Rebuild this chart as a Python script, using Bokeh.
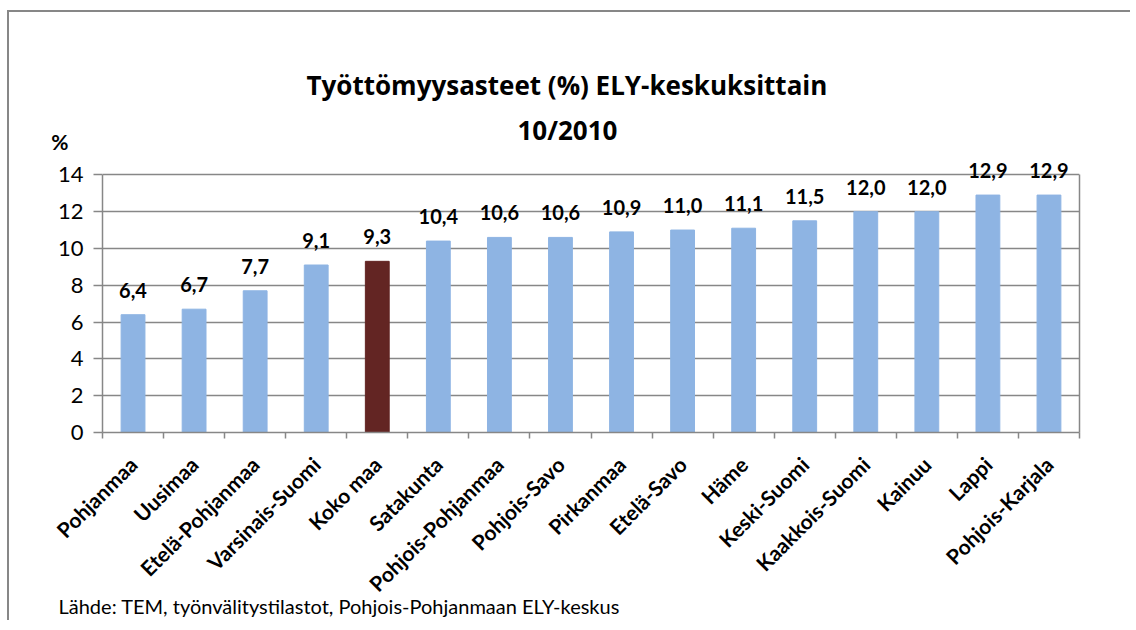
from bokeh.plotting import figure
from bokeh.models import (ColumnDataSource, LabelSet, Range1d, FixedTicker, LinearAxis, Title)
from bokeh.core.properties import value
from bokeh.embed import file_html
from bokeh.resources import INLINE

categories = ["Pohjanmaa", "Uusimaa", "Etelä-Pohjanmaa", "Varsinais-Suomi", "Koko maa",
              "Satakunta", "Pohjois-Pohjanmaa", "Pohjois-Savo", "Pirkanmaa", "Etelä-Savo",
              "Häme", "Keski-Suomi", "Kaakkois-Suomi", "Kainuu", "Lappi", "Pohjois-Karjala"]
values = [6.4, 6.7, 7.7, 9.1, 9.3, 10.4, 10.6, 10.6, 10.9, 11.0, 11.1, 11.5, 12.0, 12.0, 12.9, 12.9]
y_ticks = [0, 2, 4, 6, 8, 10, 12, 14]
highlight = "Koko maa"
title_1 = "Työttömyysasteet (%) ELY-keskuksittain"
title_2 = "10/2010"
unit_label = "%"
source_text = "Lähde:  TEM, työnvälitystilastot, Pohjois-Pohjanmaan ELY-keskus"

FONT = "Lato"
TFONT = "Open Sans"
GRAY = "#878787"
Y_MAX = 14
Y_TOP = 16.3      # extra room above the 14 line for titles / labels
UNIT_Y = 15.82    # vertical place of the "%" unit text

xs = [i + 1 for i in range(len(categories))]
colors = ["#632523" if c == highlight else "#8EB4E3" for c in categories]
texts = [f"{v:.1f}".replace(".", ",") for v in values]
src = ColumnDataSource(dict(x=xs, top=values, color=colors, text=texts, cat=categories))

p = figure(width=1130, height=620, output_backend="svg", toolbar_location=None,
           x_range=Range1d(0.5, len(categories) + 0.5), y_range=Range1d(0, Y_TOP),
           min_border_left=102, min_border_right=51, min_border_top=132, min_border_bottom=188)
p.background_fill_color = "white"
p.border_fill_color = None
p.outline_line_color = None
p.styles = {
    "vertical-align": "top",
    "background-color": "white",
    "background-image": "linear-gradient(#878787,#878787), linear-gradient(#878787,#878787)",
    "background-size": "2px 2000px, 2000px 2px",
    "background-position": "7px 10px, 7px 10px",
    "background-repeat": "no-repeat",
}

p.vbar(x="x", top="top", width=0.39, fill_color="color", line_color="color", source=src)

labels = LabelSet(x="x", y="top", text="text", source=src, text_align="center",
                  text_baseline="alphabetic", y_offset=17, text_font=value(FONT),
                  text_font_style="bold", text_font_size="20px", text_color="black")
p.add_layout(labels)

# y axis
p.yaxis.ticker = FixedTicker(ticks=y_ticks)
p.yaxis.bounds = (0, Y_MAX)
p.yaxis.minor_tick_line_color = None
p.yaxis.major_tick_out = 9
p.yaxis.major_tick_in = 0
p.yaxis.major_tick_line_color = GRAY
p.yaxis.major_tick_line_width = 1.5
p.yaxis.axis_line_color = GRAY
p.yaxis.axis_line_width = 1.5
p.yaxis.major_label_text_font = FONT
p.yaxis.major_label_text_font_size = "22px"
p.yaxis.major_label_text_color = "black"
p.yaxis.major_label_standoff = 10

# unit text "%" above the value axis
ua = LinearAxis(ticker=FixedTicker(ticks=[UNIT_Y]), major_label_overrides={UNIT_Y: unit_label},
                major_tick_line_color=None, minor_tick_line_color=None, axis_line_color=None,
                major_tick_out=0, major_tick_in=0, major_label_standoff=-14,
                major_label_text_font=FONT, major_label_text_font_style="bold",
                major_label_text_font_size="21px", major_label_text_color="black")
p.add_layout(ua, "left")

# right border line of the plot area
ra = LinearAxis(bounds=(0, Y_MAX), ticker=FixedTicker(ticks=[]), major_tick_line_color=None,
                minor_tick_line_color=None, major_label_text_font_size="0px",
                axis_line_color=GRAY, axis_line_width=1.5)
p.add_layout(ra, "right")

# x axis
p.xaxis.ticker = FixedTicker(ticks=xs, minor_ticks=[x - 0.5 for x in xs] + [xs[-1] + 0.5])
p.xaxis.major_label_overrides = {x: c for x, c in zip(xs, categories)}
p.xaxis.major_tick_line_color = None
p.xaxis.minor_tick_line_color = GRAY
p.xaxis.minor_tick_line_width = 1.5
p.xaxis.minor_tick_out = 6
p.xaxis.minor_tick_in = 0
p.xaxis.axis_line_color = GRAY
p.xaxis.axis_line_width = 1.5
p.xaxis.major_label_orientation = 0.785398
p.xaxis.major_label_text_font = FONT
p.xaxis.major_label_text_font_style = "bold"
p.xaxis.major_label_text_font_size = "21px"
p.xaxis.major_label_text_color = "black"
p.xaxis.major_label_standoff = 22

p.xgrid.grid_line_color = None
p.ygrid.ticker = FixedTicker(ticks=y_ticks)
p.ygrid.grid_line_color = GRAY
p.ygrid.grid_line_width = 1.5

# titles
p.title.text = ""
p.add_layout(Title(text=title_2, align="left", offset=415, text_font=TFONT,
                   text_font_style="bold", text_font_size="26px", text_color="black",
                   standoff=-30), "above")
p.add_layout(Title(text=title_1, align="left", offset=204, text_font=TFONT,
                   text_font_style="bold", text_font_size="26px", text_color="black",
                   standoff=44), "above")
p.add_layout(Title(text=source_text, align="left", offset=-44, vertical_align="top",
                   text_font=FONT, text_font_style="normal", text_font_size="20px",
                   text_color="black", standoff=-30), "below")

open("out.html", "w").write(file_html(p, INLINE))
